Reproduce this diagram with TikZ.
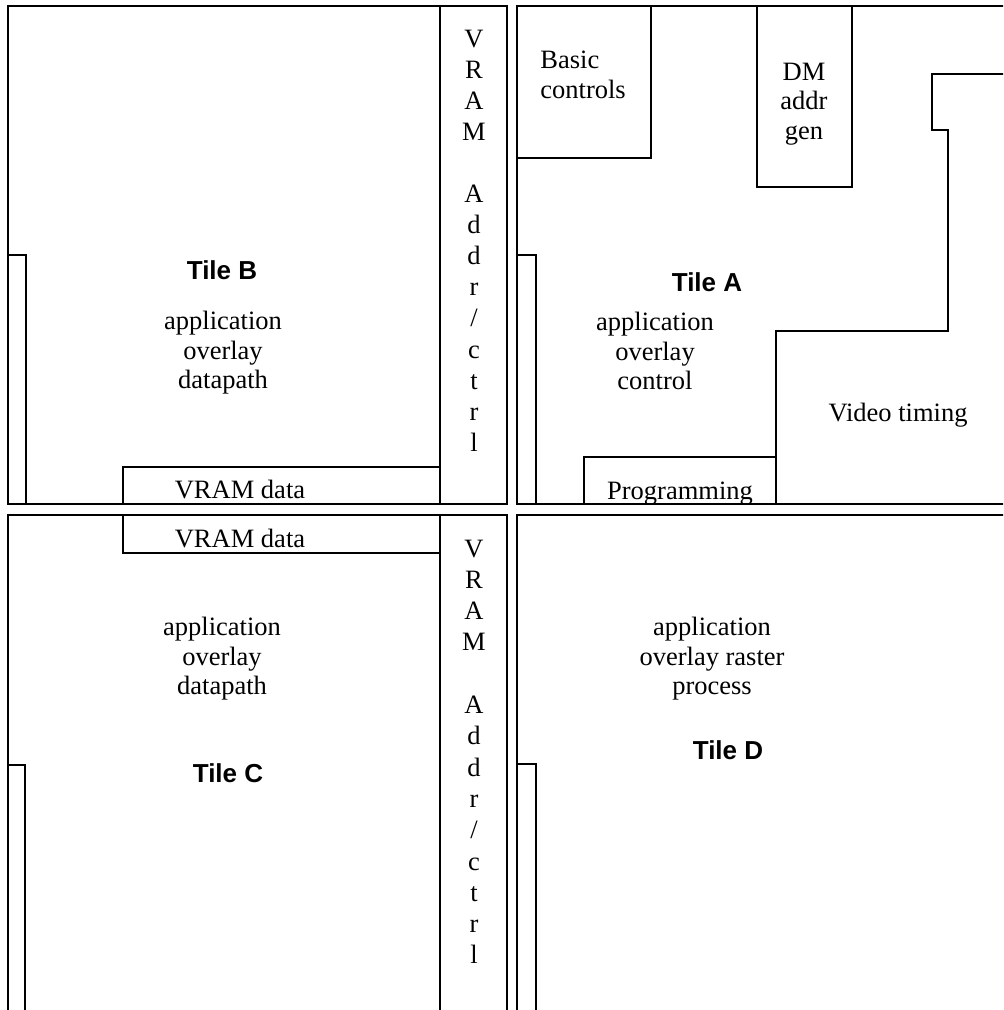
\documentclass[tikz,border=0pt]{standalone}
\usepackage{fontspec}
\setmainfont{Liberation Serif}
\newfontfamily\arialfont{Liberation Sans}
\begin{document}
\begin{tikzpicture}[x=0.5pt,y=-0.5pt,
  tile/.style={line width=1.1pt},
  part/.style={line width=0.7pt},
  lbl/.style={font=\fontsize{13.25pt}{14.75pt}\selectfont, align=center, inner sep=0pt},
  ttl/.style={font=\arialfont\bfseries\fontsize{13pt}{15pt}\selectfont, inner sep=0pt}]
\useasboundingbox (0,0) rectangle (1003,1010);
\clip (0,0) rectangle (1003,1010);
% tiles
\draw[tile] (8,6) rectangle (507,504);
\draw[tile] (1030,6) -- (517,6) -- (517,504) -- (1030,504);
\draw[tile] (8,1030) -- (8,515) -- (507,515) -- (507,1030);
\draw[tile] (1030,515) -- (517,515) -- (517,1030);
% strips
\draw[part] (8,255) -- (26,255) -- (26,504);
\draw[part] (517,255) -- (536,255) -- (536,504);
\draw[part] (8,765) -- (25,765) -- (25,1030);
\draw[part] (517,764) -- (536,764) -- (536,1030);
% VRAM columns
\draw[part] (440,6) -- (440,504);
\draw[part] (440,515) -- (440,1030);
% VRAM data boxes
\draw[part] (123,504) -- (123,467) -- (440,467);
\draw[part] (123,515) -- (123,553) -- (440,553);
% Tile A blocks
\draw[part] (651,6) -- (651,158) -- (517,158);
\draw[part] (757,6) rectangle (852,187);
\draw[part] (1030,74) -- (932,74) -- (932,130) -- (948,130) -- (948,331) -- (776,331) -- (776,504);
\draw[part] (584,504) -- (584,457) -- (776,457);
% texts
\node[ttl] (tB) at (222,270) {Tile B};
\node[lbl] (bB) at (223,353) {application\\overlay\\datapath};
\node[lbl, anchor=base] (vdB) at (240,498) {VRAM data};
\node[ttl] (tA) at (707,282) {Tile A};
\node[lbl] (bA) at (655,351) {application\\overlay\\control};
\node[lbl, anchor=west, align=left] (basic) at (540,75) {Basic\\controls};
\node[lbl] (dm) at (804,104) {DM\\addr\\gen};
\node[lbl] (vt) at (898,415) {Video timing};
\node[lbl, anchor=base] (prog) at (680,499) {Programming};
\node[lbl, anchor=base] (vdC) at (240,547) {VRAM data};
\node[lbl] (bC) at (222,659) {application\\overlay\\datapath};
\node[ttl] (tC) at (228,773) {Tile C};
\node[lbl] (bD) at (712,659) {application\\overlay raster\\process};
\node[ttl] (tD) at (728,750) {Tile D};
\foreach \t/\k in {V/0,R/1,A/2,M/3,A/5,d/6,d/7,r/8,{/}/9,c/10,t/11,r/12,l/13}{
  \node[lbl, anchor=base] (va\k) at (474,{48+31*\k}) {\t};
  \node[lbl, anchor=base] (vc\k) at (474,{557+31.3*\k}) {\t};
}
\end{tikzpicture}
\end{document}
